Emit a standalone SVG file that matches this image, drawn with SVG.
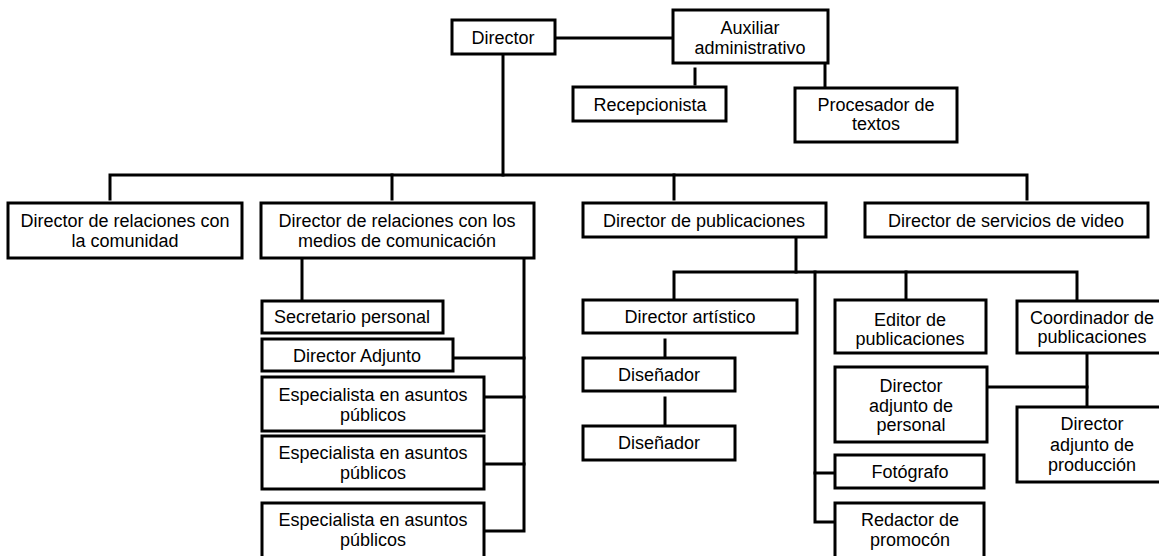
<svg xmlns="http://www.w3.org/2000/svg" width="1159" height="556" viewBox="0 0 1159 556">
<style>
.b{fill:#fff;stroke:#000;stroke-width:3}
.t{font-family:"Liberation Sans",Arial,sans-serif;font-size:18px;fill:#000;text-anchor:middle;dominant-baseline:central}
.c{fill:none;stroke:#000;stroke-width:3;stroke-linecap:square}
</style>
<rect width="1159" height="556" fill="#fff"/>
<g id="connectors">
<path class="c" d="M555 38H673"/>
<path class="c" d="M695 69V84"/>
<path class="c" d="M825 63V88"/>
<path class="c" d="M503 54V175"/>
<path class="c" d="M110 199V175H1027V199"/>
<path class="c" d="M392 175V199"/>
<path class="c" d="M674 175V199"/>
<path class="c" d="M302 258V300"/>
<path class="c" d="M524 258V531H484"/>
<path class="c" d="M453 358H524"/>
<path class="c" d="M484 397H524"/>
<path class="c" d="M484 464H524"/>
<path class="c" d="M796 237V272"/>
<path class="c" d="M674 299V272H1077V299"/>
<path class="c" d="M906 272V299"/>
<path class="c" d="M815 272V522H835"/>
<path class="c" d="M815 473H835"/>
<path class="c" d="M665 340V358"/>
<path class="c" d="M665 398V424"/>
<path class="c" d="M1087 353V407"/>
<path class="c" d="M987 387H1087"/>
</g>
<g id="director"><rect class="b" x="452" y="20" width="103" height="34"/><text class="t" x="503" y="38">Director</text></g>
<g id="auxiliar"><rect class="b" x="673" y="10" width="155" height="53"/><text class="t" x="750" y="28">Auxiliar</text><text class="t" x="750" y="48">administrativo</text></g>
<g id="recepcionista"><rect class="b" x="573" y="87" width="153" height="34"/><text class="t" x="650" y="105">Recepcionista</text></g>
<g id="procesador"><rect class="b" x="795" y="88" width="162" height="54"/><text class="t" x="876" y="105">Procesador de</text><text class="t" x="876" y="124">textos</text></g>
<g id="dir-comunidad"><rect class="b" x="8" y="203" width="234" height="55"/><text class="t" x="125" y="221">Director de relaciones con</text><text class="t" x="125" y="241">la comunidad</text></g>
<g id="dir-medios"><rect class="b" x="261" y="203" width="273" height="55"/><text class="t" x="397" y="221">Director de relaciones con los</text><text class="t" x="397" y="241">medios de comunicación</text></g>
<g id="dir-publicaciones"><rect class="b" x="583" y="203" width="243" height="34"/><text class="t" x="704" y="221">Director de publicaciones</text></g>
<g id="dir-video"><rect class="b" x="865" y="203" width="283" height="34"/><text class="t" x="1006" y="221">Director de servicios de video</text></g>
<g id="secretario"><rect class="b" x="262" y="301" width="181" height="32"/><text class="t" x="352" y="317">Secretario personal</text></g>
<g id="dir-adjunto"><rect class="b" x="262" y="339" width="191" height="32"/><text class="t" x="357" y="356">Director Adjunto</text></g>
<g id="especialista1"><rect class="b" x="262" y="377" width="222" height="54"/><text class="t" x="373" y="395">Especialista en asuntos</text><text class="t" x="373" y="415">públicos</text></g>
<g id="especialista2"><rect class="b" x="262" y="436" width="222" height="53"/><text class="t" x="373" y="453">Especialista en asuntos</text><text class="t" x="373" y="473">públicos</text></g>
<g id="especialista3"><rect class="b" x="262" y="503" width="222" height="57"/><text class="t" x="373" y="520">Especialista en asuntos</text><text class="t" x="373" y="540">públicos</text></g>
<g id="dir-artistico"><rect class="b" x="583" y="300" width="214" height="33"/><text class="t" x="690" y="317">Director artístico</text></g>
<g id="disenador1"><rect class="b" x="583" y="358" width="152" height="33"/><text class="t" x="659" y="375">Diseñador</text></g>
<g id="disenador2"><rect class="b" x="583" y="426" width="152" height="34"/><text class="t" x="659" y="443">Diseñador</text></g>
<g id="editor"><rect class="b" x="835" y="300" width="151" height="53"/><text class="t" x="910" y="320">Editor de</text><text class="t" x="910" y="339">publicaciones</text></g>
<g id="coordinador"><rect class="b" x="1017" y="301" width="150" height="52"/><text class="t" x="1092" y="318">Coordinador de</text><text class="t" x="1092" y="337">publicaciones</text></g>
<g id="adj-personal"><rect class="b" x="835" y="367" width="152" height="75"/><text class="t" x="911" y="386">Director</text><text class="t" x="911" y="406">adjunto de</text><text class="t" x="911" y="425">personal</text></g>
<g id="adj-produccion"><rect class="b" x="1017" y="407" width="150" height="75"/><text class="t" x="1092" y="424">Director</text><text class="t" x="1092" y="445">adjunto de</text><text class="t" x="1092" y="465">producción</text></g>
<g id="fotografo"><rect class="b" x="835" y="455" width="149" height="33"/><text class="t" x="910" y="472">Fotógrafo</text></g>
<g id="redactor"><rect class="b" x="835" y="503" width="149" height="57"/><text class="t" x="910" y="520">Redactor de</text><text class="t" x="910" y="540">promocón</text></g>
</svg>
